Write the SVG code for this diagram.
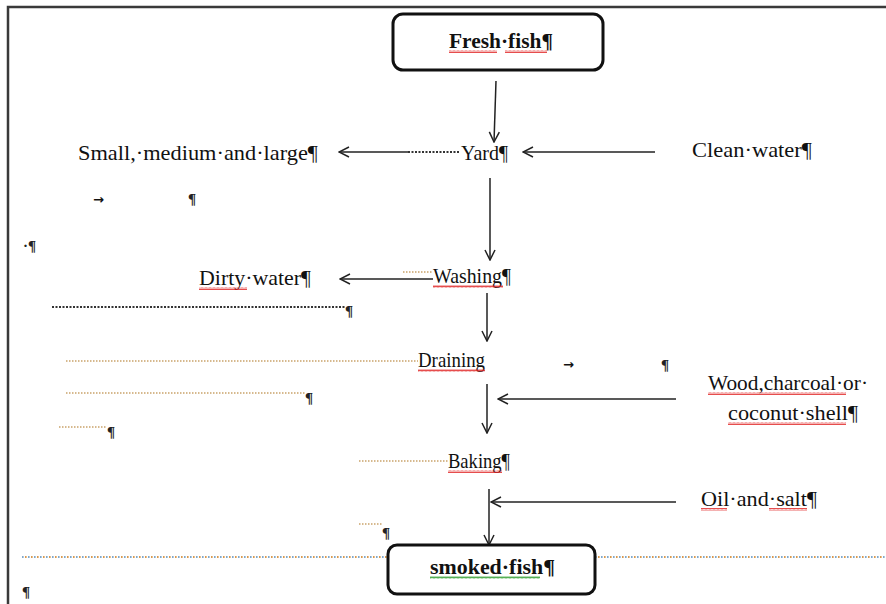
<svg xmlns="http://www.w3.org/2000/svg" width="886" height="604" viewBox="0 0 886 604">
<style>
text{font-family:"Liberation Serif","Times New Roman",serif;fill:#111;}
.t{font-size:22px;}
.b{font-size:21px;font-weight:bold;}
.pm{font-size:15px;font-weight:bold;fill:#222;}
.ar{font-family:"DejaVu Sans",sans-serif;font-size:13px;font-weight:bold;}
.box{fill:#fff;stroke:#111;stroke-width:3;}
.conn{fill:none;stroke:#222;stroke-width:1.5;}
.dk{fill:none;stroke:#333;stroke-width:2;stroke-dasharray:2 1.5;}
.or{fill:none;stroke:#c9a26a;stroke-width:1.3;stroke-dasharray:1.5 1.5;}
.bl{fill:none;stroke:#7fa8cc;stroke-width:2;stroke-dasharray:1.6 4.4;}
.bo{fill:none;stroke:#d9994f;stroke-width:2;stroke-dasharray:1.6 4.4;stroke-dashoffset:3;}
.rw{fill:url(#redwave);}
.gw{fill:url(#greenwave);}
</style>
<defs>
<marker id="ah" viewBox="0 0 12 12" refX="11" refY="6" markerWidth="12" markerHeight="12" markerUnits="userSpaceOnUse" orient="auto">
<path d="M1,1 L11,6 L1,11" fill="none" stroke="#222" stroke-width="1.5"/>
</marker>
<pattern id="redwave" width="4" height="3" patternUnits="userSpaceOnUse">
<path d="M0,2.5 L1,0.5 L2,2.5 L3,0.5 L4,2.5" fill="none" stroke="#e02020" stroke-width="0.8"/>
</pattern>
<pattern id="greenwave" width="4" height="3" patternUnits="userSpaceOnUse">
<path d="M0,2.5 L1,0.5 L2,2.5 L3,0.5 L4,2.5" fill="none" stroke="#2a9a2a" stroke-width="0.8"/>
</pattern>
</defs>
<rect width="886" height="604" fill="#fff"/>
<path d="M8,604 L8,7 L886,7" fill="none" stroke="#3a3a3a" stroke-width="2.5"/>

<g id="connectors">
<line class="conn" x1="496" y1="81" x2="494" y2="142" marker-end="url(#ah)"/>
<line class="conn" x1="408" y1="152" x2="339" y2="152" marker-end="url(#ah)"/>
<line class="conn" x1="655" y1="152" x2="523" y2="152" marker-end="url(#ah)"/>
<line class="conn" x1="490" y1="178" x2="490" y2="260" marker-end="url(#ah)"/>
<line class="conn" x1="433" y1="279" x2="340" y2="279" marker-end="url(#ah)"/>
<line class="conn" x1="487" y1="293" x2="487" y2="341" marker-end="url(#ah)"/>
<line class="conn" x1="487" y1="384" x2="487" y2="433" marker-end="url(#ah)"/>
<line class="conn" x1="676" y1="399" x2="498" y2="399" marker-end="url(#ah)"/>
<line class="conn" x1="676" y1="502" x2="491" y2="502" marker-end="url(#ah)"/>
<line class="conn" x1="489" y1="489" x2="489" y2="545" marker-end="url(#ah)"/>
</g>

<g id="leaders">
<line class="dk" x1="408" y1="152" x2="460" y2="152"/>
<line class="or" x1="403" y1="272" x2="433" y2="272"/>
<line class="dk" x1="52" y1="307" x2="345" y2="307"/>
<line class="or" x1="66" y1="361" x2="418" y2="361"/>
<line class="or" x1="66" y1="393" x2="305" y2="393"/>
<line class="or" x1="59" y1="427" x2="107" y2="427"/>
<line class="or" x1="359" y1="461" x2="448" y2="461"/>
<line class="or" x1="359" y1="524" x2="382" y2="524"/>
<line class="bl" x1="22" y1="557" x2="388" y2="557"/>
<line class="bo" x1="22" y1="557" x2="388" y2="557"/>
<line class="bl" x1="595" y1="557" x2="886" y2="557"/>
<line class="bo" x1="595" y1="557" x2="886" y2="557"/>
</g>

<g id="fresh-fish">
<rect class="box" x="393" y="14" width="210" height="56" rx="10"/>
<text class="b" x="449" y="48" textLength="104" lengthAdjust="spacingAndGlyphs">Fresh·fish¶</text>
<rect class="rw" x="449" y="50" width="48" height="3"/>
<rect class="rw" x="505" y="50" width="42" height="3"/>
</g>

<g id="yard">
<text class="t" x="461" y="160" textLength="47" lengthAdjust="spacingAndGlyphs">Yard¶</text>
</g>

<g id="small-medium-large">
<text class="t" x="78" y="160" textLength="240" lengthAdjust="spacingAndGlyphs">Small,·medium·and·large¶</text>
</g>

<g id="clean-water">
<text class="t" x="692" y="157" textLength="120" lengthAdjust="spacingAndGlyphs">Clean·water¶</text>
</g>

<g id="marks-1">
<text class="ar" x="93" y="204">→</text>
<text class="pm" x="188" y="204">¶</text>
<text class="pm" x="23" y="251">·¶</text>
</g>

<g id="washing">
<text class="t" x="433" y="283" textLength="78" lengthAdjust="spacingAndGlyphs">Washing¶</text>
<rect class="rw" x="433" y="285" width="70" height="3"/>
</g>

<g id="dirty-water">
<text class="t" x="199" y="285" textLength="112" lengthAdjust="spacingAndGlyphs">Dirty·water¶</text>
<rect class="rw" x="199" y="287" width="48" height="3"/>
<text class="pm" x="345" y="316">¶</text>
</g>

<g id="draining">
<text class="t" x="418" y="367" textLength="67" lengthAdjust="spacingAndGlyphs">Draining</text>
<rect class="rw" x="418" y="369" width="67" height="3"/>
<text class="ar" x="563" y="369">→</text>
<text class="pm" x="661" y="370">¶</text>
<text class="pm" x="305" y="403">¶</text>
<text class="pm" x="107" y="437">¶</text>
</g>

<g id="wood-charcoal">
<text class="t" x="708" y="390" textLength="160" lengthAdjust="spacingAndGlyphs">Wood,charcoal·or·</text>
<rect class="rw" x="708" y="392" width="138" height="3"/>
<text class="t" x="728" y="420" textLength="130" lengthAdjust="spacingAndGlyphs">coconut·shell¶</text>
<rect class="rw" x="728" y="422" width="118" height="3"/>
</g>

<g id="baking">
<text class="t" x="448" y="468" textLength="62" lengthAdjust="spacingAndGlyphs">Baking¶</text>
<rect class="rw" x="448" y="470" width="54" height="3"/>
<text class="pm" x="382" y="538">¶</text>
</g>

<g id="oil-salt">
<text class="t" x="701" y="506" textLength="116" lengthAdjust="spacingAndGlyphs">Oil·and·salt¶</text>
<rect class="rw" x="701" y="508" width="26" height="3"/>
<rect class="rw" x="769" y="508" width="38" height="3"/>
</g>

<g id="smoked-fish">
<rect class="box" x="388" y="545" width="207" height="49" rx="9"/>
<text class="b" x="430" y="574" textLength="125" lengthAdjust="spacingAndGlyphs">smoked·fish¶</text>
<rect class="gw" x="430" y="576" width="110" height="3"/>
</g>

<text class="pm" x="22" y="597">¶</text>
</svg>
